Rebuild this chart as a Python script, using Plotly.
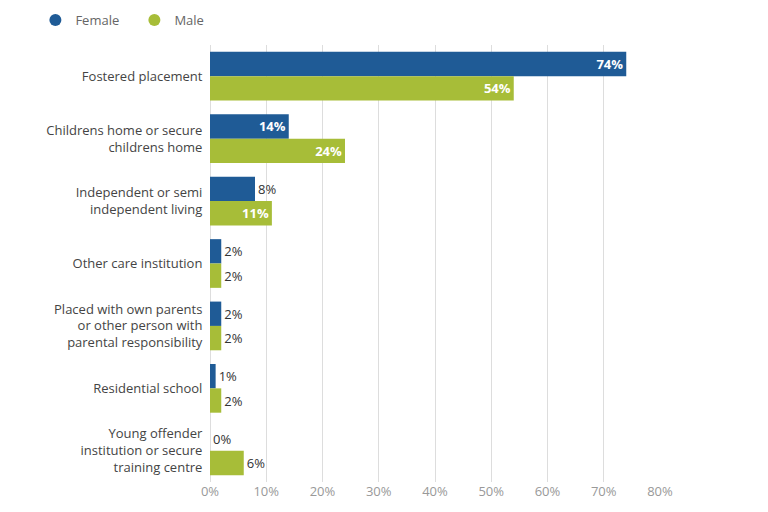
import plotly.graph_objects as go

categories = [
    "Fostered placement",
    "Childrens home or secure<br>childrens home",
    "Independent or semi<br>independent living",
    "Other care institution",
    "Placed with own parents<br>or other person with<br>parental responsibility",
    "Residential school",
    "Young offender<br>institution or secure<br>training centre",
]
female = [74, 14, 8, 2, 2, 1, 0]
male = [54, 24, 11, 2, 2, 2, 6]
x_ticks = [0, 10, 20, 30, 40, 50, 60, 70, 80]
x_tick_labels = [f"{v}%" for v in x_ticks]

FEMALE_C = "#1f5b96"
MALE_C = "#a7bd38"


def labels(vals):
    txt, pos, col = [], [], []
    for v in vals:
        if v >= 10:
            txt.append(f"<b>{v}%</b>")
            pos.append("inside")
            col.append("white")
        else:
            txt.append(f"{v}%")
            pos.append("outside")
            col.append("#333333")
    return txt, pos, col


fig = go.Figure()
for name, vals, c in [("Female", female, FEMALE_C), ("Male", male, MALE_C)]:
    t, p, tc = labels(vals)
    fig.add_trace(go.Bar(
        y=categories, x=vals, orientation="h", name=name,
        marker=dict(color=c, line=dict(width=0)),
        text=t, textposition=p, insidetextanchor="end",
        textfont=dict(family="Open Sans", size=13, color=tc),
        outsidetextfont=dict(family="Open Sans", size=13, color="#333333"),
        insidetextfont=dict(family="Open Sans", size=13, color="white"),
        cliponaxis=False, showlegend=False, hoverinfo="skip",
    ))
    fig.add_trace(go.Scatter(
        x=[None], y=[None], mode="markers", name=name,
        marker=dict(color=c, size=12, symbol="circle"),
    ))

fig.update_layout(
    width=768, height=512,
    margin=dict(l=202, r=116, t=37, b=38, autoexpand=False),
    plot_bgcolor="white", paper_bgcolor="white",
    barmode="group", bargap=0.22, bargroupgap=0.0,
    font=dict(family="Open Sans", size=13, color="#444444"),
    legend=dict(orientation="h", x=-0.388, xanchor="left", y=1.057, yanchor="middle",
                font=dict(size=13, color="#666666"),
                tracegroupgap=0, entrywidthmode="pixels", entrywidth=54),
)
fig.update_xaxes(
    range=[0, 80], tickvals=x_ticks, ticktext=x_tick_labels, automargin=False,
    showgrid=True, gridcolor="#dddddd", gridwidth=1,
    zeroline=True, zerolinecolor="#dddddd", zerolinewidth=1,
    tickfont=dict(size=13, color="#999999"), showline=False, ticks="",
)
fig.update_yaxes(
    autorange="reversed", showgrid=False, ticks="outside", ticklen=4,
    tickcolor="rgba(0,0,0,0)", automargin=False,
    tickfont=dict(size=13, color="#444444"), showline=False,
)

fig.write_html("out.html")
